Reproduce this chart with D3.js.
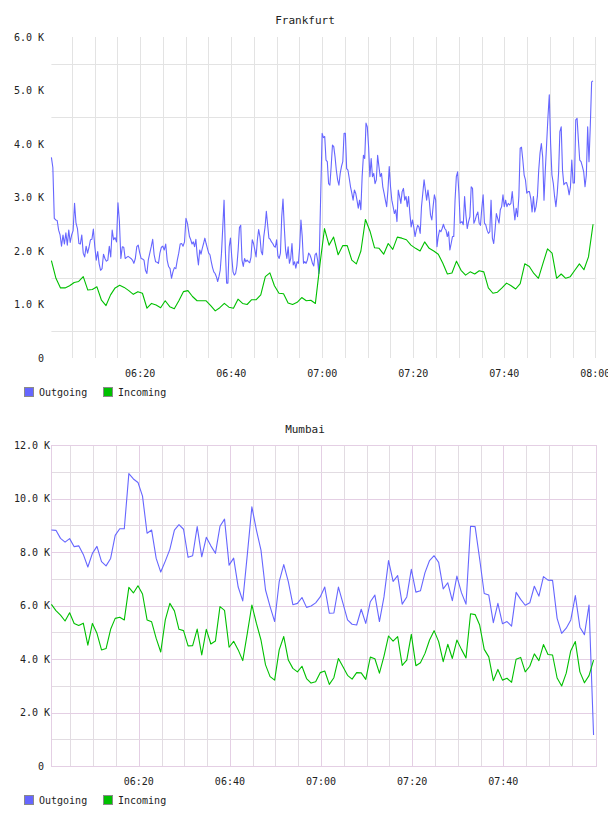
<!DOCTYPE html>
<html>
<head>
<meta charset="UTF-8">
<title>Traffic</title>
<script src="https://d3js.org/d3.v7.min.js"></script>
<style>
  body { margin: 0; background: #fff; }
  svg text { font-family: "DejaVu Sans Mono", monospace; fill: #222; }
</style>
</head>
<body>
<svg id="chart" width="608" height="816"></svg>
<script>
// ---- Frankfurt (values in K) ----
const fraIncomingStart = "06:00:30";   // one sample per minute
const fraIncoming = [
  1.82,1.49,1.31,1.31,1.35,1.41,1.43,1.52,1.27,1.28,
  1.33,1.08,0.98,1.18,1.31,1.36,1.32,1.26,1.19,1.24,
  1.21,0.93,1.02,0.99,0.94,1.07,0.96,0.92,1.07,1.24,
  1.26,1.15,1.07,1.07,1.07,0.98,0.88,0.94,1.02,0.95,
  0.93,1.10,1.02,1.00,1.09,1.09,1.18,1.52,1.59,1.35,
  1.21,1.20,1.03,1.00,1.04,1.13,1.07,1.08,1.02,1.75,
  2.42,2.11,2.26,1.93,2.10,2.10,1.83,1.76,2.00,2.59,
  2.37,2.06,2.05,1.94,2.14,2.03,2.26,2.24,2.21,2.11,
  2.05,2.00,2.17,2.05,2.00,1.94,1.77,1.57,1.59,1.81,
  1.64,1.55,1.61,1.57,1.63,1.61,1.31,1.21,1.23,1.31,
  1.40,1.35,1.29,1.39,1.76,1.71,1.58,1.49,1.77,2.04,
  1.96,1.49,1.57,1.49,1.52,1.64,1.76,1.65,1.89,2.50
];

const fraOutgoing1 = [
  3.75,3.56,2.61,2.58,2.57,2.39,2.30,2.09,2.30,2.13,
  2.34,2.11,2.39,2.16,2.30,2.38,2.89,2.52,2.42,2.14,
  2.13,2.30,1.96,1.89,2.09,1.96,2.07,2.21,2.22,2.41,
  2.08,1.83,1.99,1.76,1.64,1.67,1.94,1.86,1.81,1.83,
  2.09,1.89,2.39,2.21,2.25,2.17,2.90,2.55,1.86,2.08,
  2.07,1.86,1.88,1.90,1.88,1.86,1.83,1.77,1.86,2.08,
  2.11,1.97,1.86,1.85,1.83,1.64,1.58,1.84,1.96,2.08,
  2.22,1.93,1.80,1.79,1.77,1.96,2.07,2.09,2.02,2.13,
  1.83,1.71,1.67,1.49,1.61,1.69,1.67,1.83,1.96,2.13,
  2.14,2.09,2.17,2.61,2.52
];
const fraOutgoing2 = [
  2.27,2.21,2.13,2.17,2.08,2.22,1.93,1.74,2.02,1.94,
  2.05,2.14,2.24,2.14,2.05,1.96,1.93,1.80,1.69,1.61,
  1.58,1.52,1.43,1.52,1.64,1.96,2.45,2.95,2.02,1.40,
  1.40,2.08,2.24,1.89,1.61,1.55,1.58,1.72,2.02,2.44,
  2.48,1.83,1.71,1.86,1.80,1.83,1.80,1.78,1.88,2.21,
  2.14,2.02,1.89,2.21,2.40,2.27,1.99,1.93,2.27,2.45,
  2.74,2.49,2.24,2.22,2.17,2.14,2.09,2.07,2.21,1.91,
  1.86,1.96,2.64,2.97,2.45,2.02,1.86,2.08,1.77,1.86,
  2.14,1.74,1.80,1.68,1.80,1.77,2.08,2.58,2.27,1.77,
  1.80,1.77,1.83,1.96,1.93,1.86,1.77,1.72,1.93,1.96,
  1.83,1.58
];
const fraOutgoing3 = [
  4.20,4.12,4.14,3.70,3.67,3.26,3.23,3.58,3.98,3.95,
  3.76,3.51,3.33,3.23,3.45,3.58,3.67,4.20,4.20,3.54,
  3.51,3.36,3.20,3.08,2.95,3.14,3.08,2.95,2.80,2.95,
  2.77,3.39,3.79,3.73,4.39,4.32,3.95,3.39,3.73,3.39,
  3.45,3.26,3.33,3.79,3.58,3.39,3.45,3.20,3.08,2.95,
  2.83,3.14,3.58,3.20,2.95,2.83,2.70,2.77,2.55,3.14,
  3.02,2.89,3.11,3.17,2.95,3.02,2.83,3.02,2.70,2.45,
  2.58,2.45,2.27,2.39,2.48,2.45,2.33,2.83,3.08,3.33,
  3.14,2.95,3.14,2.95,2.67,2.58,2.83,3.05,2.95,2.08,
  2.27,2.39,2.36,2.42,2.50,2.42,2.39,2.27,2.36,2.02,
  2.14,2.27,2.27,2.95,3.39,3.48,3.08,2.52
];
const fraOutgoing4 = [
  2.55,2.49,3.02,2.67,2.42,2.55,2.64,3.20,3.17,2.52,
  2.58,2.67,2.73,2.52,2.48,2.80,3.05,2.52,2.49,2.39,
  2.33,2.36,2.95,2.24,2.14,2.39,2.70,2.61,2.52,2.77,
  2.83,3.05,2.83,2.95,2.83,2.89,2.86,2.89,3.11,2.83,
  2.58,2.80,2.64,3.02,3.92,3.94,3.70,3.42,3.33,3.08,
  3.11,3.11,2.98,2.73,3.02,2.73,2.83,3.02,3.51,3.83,
  4.01,3.76,2.95,3.51,4.01,4.51,4.92,4.01,3.42,3.27,
  3.02,2.83,3.08,3.45,4.23,4.32,3.51,3.24,3.27,3.28,
  3.20,3.05,3.20,3.70,3.27,3.27,4.45,4.48,4.07,3.70,
  3.67,3.58,3.48,3.20,3.42,4.32,3.67,4.35,5.16,5.18
];
const fraOutgoingSpans = [
  ["06:00:30", "06:30:23"],
  ["06:30:50", "06:59:16"],
  ["06:59:59", "07:30:19"],
  ["07:30:42", "07:59:29"]
];

// ---- Mumbai (values in K, one sample per minute) ----
const mumStart = "06:00:49";
const mumOutgoing = [
  8.82,8.81,8.51,8.37,8.50,8.20,8.23,7.91,7.44,7.95,
  8.21,7.64,7.48,7.76,8.62,8.87,8.87,10.93,10.73,10.60,
  10.09,8.70,8.82,7.76,7.25,7.66,8.10,8.82,9.02,8.85,
  7.80,7.86,8.95,7.82,8.55,8.23,7.95,8.96,9.23,7.51,
  7.77,6.69,6.17,7.90,9.69,8.82,8.07,6.58,5.96,5.40,
  6.89,7.53,6.89,6.03,6.08,6.30,5.93,5.98,6.10,6.32,
  6.69,5.71,5.72,6.69,6.08,5.46,5.30,5.27,5.86,5.33,
  6.14,6.39,5.40,6.32,7.68,6.90,7.12,6.05,6.32,7.35,
  6.50,6.55,7.23,7.68,7.86,7.61,6.62,6.85,6.18,7.10,
  6.48,6.05,8.96,8.95,7.74,6.45,6.39,5.36,6.08,5.32,
  5.40,5.23,6.49,6.23,6.01,6.10,6.72,6.35,7.08,6.95,
  6.94,5.52,4.96,5.15,5.46,6.37,5.19,4.91,6.02,1.16
];
const mumIncoming = [
  6.04,5.81,5.64,5.42,5.73,5.33,5.25,5.34,4.52,5.33,
  4.96,4.34,4.39,5.11,5.52,5.56,5.46,6.68,6.47,6.74,
  6.43,5.46,5.39,4.77,4.26,5.46,6.08,5.80,5.11,5.06,
  4.49,4.50,5.12,4.15,5.11,4.56,4.67,5.96,5.82,4.44,
  4.66,4.34,3.94,4.96,6.02,5.33,4.71,3.78,3.34,3.21,
  4.34,4.84,3.96,3.65,3.52,3.73,3.27,3.10,3.15,3.49,
  3.55,3.05,3.30,4.02,3.71,3.39,3.25,3.49,3.48,3.24,
  4.07,4.01,3.47,4.11,4.86,4.67,4.84,3.76,3.96,4.92,
  3.75,3.86,4.21,4.71,5.06,4.65,3.90,4.55,4.02,4.71,
  4.36,4.04,5.69,5.66,5.27,4.36,4.08,3.19,3.61,3.21,
  3.28,3.13,3.99,4.06,3.52,3.73,4.19,3.94,4.54,4.17,
  4.15,3.29,2.99,3.47,4.31,4.65,3.52,3.11,3.38,3.96
];

const seriesNames = ["Outgoing", "Incoming"];
const seriesColors = ["#6666ff", "#00c000"];
const fraTickLabels = ["06:20", "06:40", "07:00", "07:20", "07:40", "08:00"];
const mumTickLabels = ["06:20", "06:40", "07:00", "07:20", "07:40"];

const parseTime = d3.timeParse("%H:%M:%S");
const parseTick = d3.timeParse("%H:%M");
const svg = d3.select("#chart");

function perMinute(start, values) {
  const t0 = parseTime(start);
  return values.map((v, i) => ({ t: d3.timeMinute.offset(t0, i), v }));
}

function spread(span, values) {
  const a = parseTime(span[0]), b = parseTime(span[1]);
  const st = (b - a) / (values.length - 1);
  return values.map((v, i) => ({ t: new Date(+a + st * i), v }));
}

function drawChart(cfg) {
  const g = svg.append("g");
  const x = d3.scaleTime().domain(cfg.domain.map(parseTime)).range([51.4, 596.3]);
  const y = d3.scaleLinear().domain([0, cfg.yMax]).range([cfg.bottom, cfg.top]);

  g.append("text")
    .attr("x", 305).attr("y", cfg.titleY)
    .attr("text-anchor", "middle")
    .style("font-size", "11px")
    .text(cfg.title);

  // vertical grid every 5 minutes
  const gridEnd = d3.timeSecond.offset(parseTick(cfg.gridEnd), 1);
  const minor = d3.timeMinute.every(5).range(x.domain()[0], gridEnd);
  g.selectAll(".vgrid").data(minor).enter().append("line")
    .attr("x1", d => Math.round(x(d)) + 0.5).attr("x2", d => Math.round(x(d)) + 0.5)
    .attr("y1", cfg.top).attr("y2", cfg.bottom)
    .attr("stroke", d => cfg.framed && d.getMinutes() % 20 === 0 ? cfg.majorColor : cfg.gridColor)
    .attr("stroke-width", 1);

  // horizontal grid
  g.selectAll(".hgrid").data(cfg.gridValues).enter().append("line")
    .attr("x1", 51.4).attr("x2", 596.3)
    .attr("y1", d => Math.round(y(d)) + 0.5).attr("y2", d => Math.round(y(d)) + 0.5)
    .attr("stroke", d => cfg.framed && d % 2 === 0 ? cfg.majorColor : cfg.gridColor)
    .attr("stroke-width", 1);

  if (cfg.framed) {
    g.append("rect")
      .attr("x", 51.5).attr("y", cfg.top + 0.5)
      .attr("width", 545).attr("height", cfg.bottom - cfg.top)
      .attr("fill", "none").attr("stroke", cfg.majorColor);
  }

  // y labels
  g.selectAll(".ylab").data(cfg.labelValues).enter().append("text")
    .attr("x", d => d === 0 ? 44 : cfg.labelRight)
    .attr("y", d => y(d)).attr("dy", "0.35em")
    .attr("text-anchor", "end")
    .style("font-size", "10px")
    .text(d => d === 0 ? "0" : d3.format(".1f")(d) + " K");

  // x labels
  g.selectAll(".xlab").data(cfg.tickLabels).enter().append("text")
    .attr("x", d => x(parseTick(d)))
    .attr("y", cfg.bottom + 15).attr("dy", "0.35em")
    .attr("text-anchor", "middle")
    .style("font-size", "10px")
    .text(d => d);

  const line = d3.line().x(d => x(d.t)).y(d => y(d.v));
  cfg.series.forEach((s, i) => {
    g.append("path").datum(s)
      .attr("d", line)
      .attr("fill", "none")
      .attr("stroke", seriesColors[i])
      .attr("stroke-width", 1.1)
      .attr("stroke-linejoin", "round");
  });

  // legend
  const lg = g.append("g").attr("transform", `translate(24,${cfg.bottom + 29})`);
  seriesNames.forEach((name, i) => {
    const item = lg.append("g").attr("transform", `translate(${i * 79},0)`);
    item.append("rect")
      .attr("x", 0.5).attr("y", 0.5).attr("width", 9).attr("height", 9)
      .attr("fill", seriesColors[i]).attr("stroke", "#8a8a8a");
    item.append("text")
      .attr("x", 15).attr("y", 5).attr("dy", "0.35em")
      .style("font-size", "10px")
      .text(name);
  });
}

const fraOutgoing = [fraOutgoing1, fraOutgoing2, fraOutgoing3, fraOutgoing4]
  .flatMap((vals, i) => spread(fraOutgoingSpans[i], vals));

drawChart({
  title: "Frankfurt", titleY: 24,
  domain: ["06:00:30", "08:00:13"],
  top: 37, bottom: 358, yMax: 6,
  gridValues: [0.5, 1.5, 2.5, 3.5, 4.5, 5.5],
  labelValues: [0, 1, 2, 3, 4, 5, 6],
  labelRight: 44,
  tickLabels: fraTickLabels, gridEnd: "08:00",
  framed: false, gridColor: "#e3e3e3", majorColor: "#e3e3e3",
  series: [fraOutgoing, perMinute(fraIncomingStart, fraIncoming)]
});

drawChart({
  title: "Mumbai", titleY: 433,
  domain: ["06:00:49", "08:00:25"],
  top: 445, bottom: 766, yMax: 12,
  gridValues: d3.range(1, 12),
  labelValues: [0, 2, 4, 6, 8, 10, 12],
  labelRight: 50,
  tickLabels: mumTickLabels, gridEnd: "07:55",
  framed: true, gridColor: "#e2dce2", majorColor: "#e4cfe4",
  series: [perMinute(mumStart, mumOutgoing), perMinute(mumStart, mumIncoming)]
});
</script>
</body>
</html>
